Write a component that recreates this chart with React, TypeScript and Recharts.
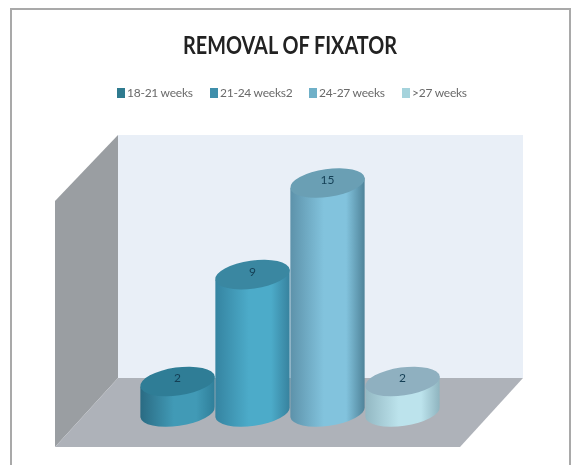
import { BarChart, Bar, XAxis, YAxis, Legend, LabelList } from 'recharts'

const categories = ['Removal of fixator']
const seriesNames = ['18-21 weeks', '21-24 weeks2', '24-27 weeks', '>27 weeks']
const seriesValues = [2, 9, 15, 2]
const legendColors = ['#2f7b8f', '#3f8fab', '#6fb0c8', '#a5d3dc']
const legendLefts = [117, 210, 309, 402]
const sideColors = [
  ['#2a6b83', '#419ab6', '#2f7f9a'],
  ['#3584a1', '#4cabc9', '#37829e'],
  ['#5d92aa', '#82c3dd', '#4f8399'],
  ['#93b8c3', '#bce3ec', '#8fb4bf'],
]
const capColors = ['#2f7d96', '#3a87a1', '#6a9fb4', '#8fb0c0']

const chartData = categories.map((name) => {
  const row: Record<string, any> = { name }
  seriesNames.forEach((s, i) => { row[s] = seriesValues[i] })
  return row
})

const TILT = 8

function cylinder(index: number) {
  return (props: any) => {
    const { x, y, width, height } = props
    const rx = width / 2
    const ry = 14
    const cx = x + rx
    const rad = (TILT * Math.PI) / 180
    const dx = rx * Math.cos(rad)
    const dy = rx * Math.sin(rad)
    const body = `M${cx - dx},${y + dy} L${cx - dx},${y + height + dy} A${rx},${ry} ${-TILT} 0 0 ${cx + dx},${y + height - dy} L${cx + dx},${y - dy} Z`
    return (
      <g>
        <path d={body} fill={`url(#side-${index})`} />
        <ellipse cx={cx} cy={y} rx={rx} ry={ry} fill={capColors[index]} transform={`rotate(${-TILT} ${cx} ${y})`} />
      </g>
    )
  }
}

function legendContent({ payload }: any) {
  return (
    <div style={{ position: 'relative', height: 0 }}>
      {(payload || []).map((item: any, i: number) => (
        <div key={item.value} style={{ position: 'absolute', left: legendLefts[i], top: 0, display: 'flex', alignItems: 'center', whiteSpace: 'nowrap' }}>
          <span style={{ width: 8, height: 10, marginRight: 2, background: item.color, display: 'inline-block' }} />
          <span style={{ color: '#6a6a6a', letterSpacing: -0.25 }}>{item.value}</span>
        </div>
      ))}
    </div>
  )
}

export default function App() {
  return (
    <div style={{ position: 'absolute', left: 0, top: 0, width: 573, height: 465, overflow: 'hidden', background: '#fff', filter: 'blur(0.7px)' }}>
      <div style={{ position: 'absolute', left: 10, top: 8, width: 557, height: 480, border: '2px solid #a9a9a9', boxSizing: 'content-box' }} />
      <svg width={573} height={465} style={{ position: 'absolute', left: 0, top: 0 }}>
        <polygon points="118,135 523,135 523,378 118,378" fill="#e9eff7" />
        <polygon points="55,201 118,135 118,378 55,447" fill="#9a9ea2" />
        <polygon points="118,378 523,378 460,447 55,447" fill="#aeb2b9" />
        <text x={290} y={54} textAnchor="middle" textLength={214} lengthAdjust="spacingAndGlyphs" fontFamily="Lato, sans-serif" fontWeight={700} fontSize={25} fill="#222">
          REMOVAL OF FIXATOR
        </text>
      </svg>
      <div style={{ position: 'absolute', left: 0, top: 0 }}>
        <BarChart
          width={573}
          height={465}
          data={chartData}
          barCategoryGap={0}
          barGap={0}
          margin={{ top: 183, right: 133, bottom: 53, left: 140 }}
        >
          <defs>
            {sideColors.map((c, i) => (
              <linearGradient key={i} id={`side-${i}`} x1="0" y1="0" x2="1" y2="0">
                <stop offset="0%" stopColor={c[0]} />
                <stop offset="45%" stopColor={c[1]} />
                <stop offset="75%" stopColor={c[1]} />
                <stop offset="100%" stopColor={c[2]} />
              </linearGradient>
            ))}
          </defs>
          <XAxis dataKey="name" hide />
          <YAxis hide domain={[0, 15]} />
          <Legend
            verticalAlign="top"
            content={legendContent}
            wrapperStyle={{ position: 'absolute', left: 0, top: 85, width: 573, height: 0, fontFamily: 'Lato, sans-serif', fontSize: 12 }}
          />
          {seriesNames.map((s, i) => (
            <Bar key={s} dataKey={s} fill={legendColors[i]} isAnimationActive={false} shape={cylinder(i)}>
              <LabelList dataKey={s} position="top" offset={-1} fontFamily="Lato, sans-serif" fontSize={12} fill="#143f55" />
            </Bar>
          ))}
        </BarChart>
      </div>
    </div>
  )
}
